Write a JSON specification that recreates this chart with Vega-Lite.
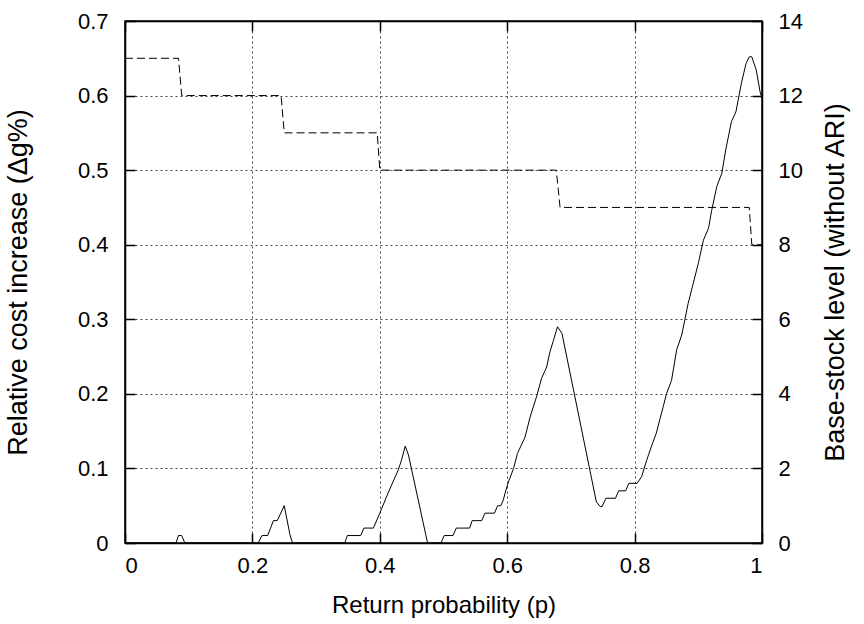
{
  "$schema": "https://vega.github.io/schema/vega-lite/v6.json",
  "width": 637,
  "height": 522,
  "autosize": {"type": "none"},
  "padding": {"left": 125, "top": 21, "right": 102, "bottom": 81},
  "background": "white",
  "config": {
    "view": {"stroke": "black", "strokeWidth": 1.5},
    "font": "Liberation Sans",
    "axis": {
      "labelFont": "Liberation Sans",
      "titleFont": "Liberation Sans",
      "labelFontSize": 22,
      "titleFontSize": 22,
      "titleFontWeight": "normal",
      "labelColor": "black",
      "titleColor": "black",
      "domainColor": "black",
      "domainWidth": 1.5,
      "tickColor": "black",
      "tickWidth": 1.5,
      "tickSize": -10,
      "gridColor": "#444",
      "gridDash": [2, 3],
      "gridWidth": 1
    }
  },
  "datasets": {
    "cost": [
      {"p": 0, "v": 0}, {"p": 0.080, "v": 0}, {"p": 0.084, "v": 0.01}, {"p": 0.089, "v": 0.01}, {"p": 0.094, "v": 0},
      {"p": 0.209, "v": 0}, {"p": 0.215, "v": 0.01}, {"p": 0.224, "v": 0.01}, {"p": 0.233, "v": 0.03}, {"p": 0.239, "v": 0.03},
      {"p": 0.250, "v": 0.05}, {"p": 0.259, "v": 0.011}, {"p": 0.263, "v": 0},
      {"p": 0.345, "v": 0}, {"p": 0.349, "v": 0.01}, {"p": 0.370, "v": 0.01}, {"p": 0.375, "v": 0.02}, {"p": 0.390, "v": 0.02},
      {"p": 0.400, "v": 0.04}, {"p": 0.413, "v": 0.067}, {"p": 0.429, "v": 0.098}, {"p": 0.434, "v": 0.111}, {"p": 0.440, "v": 0.13},
      {"p": 0.445, "v": 0.118}, {"p": 0.475, "v": 0},
      {"p": 0.496, "v": 0}, {"p": 0.501, "v": 0.01}, {"p": 0.515, "v": 0.01}, {"p": 0.520, "v": 0.02}, {"p": 0.541, "v": 0.02},
      {"p": 0.545, "v": 0.03}, {"p": 0.560, "v": 0.03}, {"p": 0.565, "v": 0.04}, {"p": 0.580, "v": 0.04}, {"p": 0.585, "v": 0.05},
      {"p": 0.590, "v": 0.05}, {"p": 0.594, "v": 0.058}, {"p": 0.598, "v": 0.071}, {"p": 0.602, "v": 0.082}, {"p": 0.610, "v": 0.10},
      {"p": 0.616, "v": 0.12}, {"p": 0.628, "v": 0.142}, {"p": 0.636, "v": 0.169}, {"p": 0.646, "v": 0.196}, {"p": 0.654, "v": 0.221},
      {"p": 0.662, "v": 0.236}, {"p": 0.667, "v": 0.256}, {"p": 0.672, "v": 0.27}, {"p": 0.679, "v": 0.29}, {"p": 0.686, "v": 0.281},
      {"p": 0.740, "v": 0.055}, {"p": 0.746, "v": 0.049}, {"p": 0.749, "v": 0.049}, {"p": 0.755, "v": 0.06}, {"p": 0.770, "v": 0.06},
      {"p": 0.775, "v": 0.07}, {"p": 0.786, "v": 0.07}, {"p": 0.791, "v": 0.08}, {"p": 0.804, "v": 0.08}, {"p": 0.811, "v": 0.089},
      {"p": 0.819, "v": 0.111}, {"p": 0.827, "v": 0.131}, {"p": 0.834, "v": 0.147}, {"p": 0.840, "v": 0.167}, {"p": 0.845, "v": 0.183},
      {"p": 0.850, "v": 0.20}, {"p": 0.858, "v": 0.218}, {"p": 0.866, "v": 0.259}, {"p": 0.874, "v": 0.279}, {"p": 0.884, "v": 0.321},
      {"p": 0.892, "v": 0.348}, {"p": 0.900, "v": 0.375}, {"p": 0.908, "v": 0.406}, {"p": 0.916, "v": 0.422}, {"p": 0.921, "v": 0.446},
      {"p": 0.929, "v": 0.478}, {"p": 0.937, "v": 0.496}, {"p": 0.943, "v": 0.527}, {"p": 0.952, "v": 0.565}, {"p": 0.959, "v": 0.578},
      {"p": 0.968, "v": 0.618}, {"p": 0.975, "v": 0.643}, {"p": 0.980, "v": 0.652}, {"p": 0.984, "v": 0.652}, {"p": 0.991, "v": 0.634},
      {"p": 0.997, "v": 0.605}, {"p": 1.0, "v": 0.596}
    ],
    "stock": [
      {"p": 0, "s": 13}, {"p": 0.084, "s": 13}, {"p": 0.089, "s": 12}, {"p": 0.245, "s": 12}, {"p": 0.250, "s": 11},
      {"p": 0.396, "s": 11}, {"p": 0.400, "s": 10}, {"p": 0.677, "s": 10}, {"p": 0.683, "s": 9}, {"p": 0.980, "s": 9},
      {"p": 0.984, "s": 8}, {"p": 1.0, "s": 8}
    ]
  },
  "layer": [
    {
      "data": {"name": "cost"},
      "mark": {"type": "line", "color": "black", "strokeWidth": 1, "clip": true},
      "encoding": {
        "x": {
          "field": "p", "type": "quantitative",
          "scale": {"domain": [0, 1], "nice": false, "zero": false},
          "axis": {
            "orient": "bottom", "values": [0, 0.2, 0.4, 0.6, 0.8, 1], "format": ".1~f",
            "grid": true, "labelPadding": 22, "title": "Return probability (p)", "titlePadding": 17, "titleFontSize": 24
          }
        },
        "y": {
          "field": "v", "type": "quantitative",
          "scale": {"domain": [0, 0.7], "nice": false},
          "axis": {
            "orient": "left", "values": [0, 0.1, 0.2, 0.3, 0.4, 0.5, 0.6, 0.7], "format": ".1~f",
            "grid": true, "labelPadding": 27, "title": "Relative cost increase (Δg%)", "titlePadding": 45, "titleFontSize": 27
          }
        }
      }
    },
    {
      "data": {"name": "stock"},
      "mark": {"type": "line", "color": "black", "strokeWidth": 1, "strokeDash": [8, 4], "clip": true},
      "encoding": {
        "x": {
          "field": "p", "type": "quantitative",
          "scale": {"domain": [0, 1], "nice": false, "zero": false},
          "axis": {
            "orient": "top", "values": [0, 0.2, 0.4, 0.6, 0.8, 1], "labels": false, "grid": false, "title": null
          }
        },
        "y": {
          "field": "s", "type": "quantitative",
          "scale": {"domain": [0, 14], "nice": false},
          "axis": {
            "orient": "right", "values": [0, 2, 4, 6, 8, 10, 12, 14], "format": "d",
            "grid": false, "labelPadding": 26, "title": "Base-stock level (without ARI)", "titlePadding": 47, "titleAngle": 270, "titleFontSize": 27
          }
        }
      }
    }
  ],
  "resolve": {"scale": {"x": "independent", "y": "independent"}, "axis": {"x": "independent", "y": "independent"}}
}
